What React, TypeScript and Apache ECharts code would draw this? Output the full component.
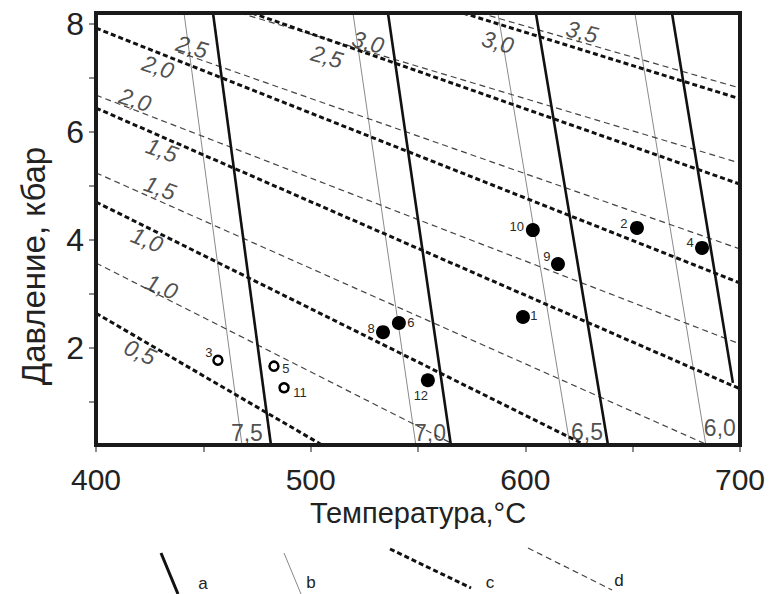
import React, { useEffect, useRef } from "react";
import * as echarts from "echarts";

// Samples: id, temperature (°C), pressure (kbar)
const sampleIds = ["1", "2", "3", "4", "5", "6", "8", "9", "10", "11", "12"];
const sampleT = [598.9, 652.0, 456.8, 682.3, 482.9, 541.1, 533.7, 615.2, 603.5, 487.6, 554.6];
const sampleP = [2.57, 4.22, 1.77, 3.85, 1.66, 2.46, 2.29, 3.55, 4.18, 1.26, 1.4];
const sampleFilled = [true, true, false, true, false, true, true, true, true, false, true];

// Isolines: each as [[T1, P1], [T2, P2]]
const isoA = [
  [[454.5, 8.2], [481.5, 0.2]],
  [[536.0, 8.2], [565.3, 0.2]],
  [[604.9, 8.2], [638.5, 0.2]],
  [[668.3, 8.2], [696.7, 1.35]],
];
const isoB = [
  [[441.0, 8.2], [468.0, 0.2]],
  [[519.7, 8.2], [549.0, 0.2]],
  [[587.2, 8.2], [620.8, 0.2]],
  [[651.0, 8.2], [684.1, 0.2]],
];
const isoC = [
  [[400, 2.64], [505.3, 0.2]],
  [[400, 4.7], [627.8, 0.2]],
  [[400, 6.44], [700, 1.24]],
  [[400, 7.92], [700, 3.2]],
  [[472.7, 8.2], [700, 5.03]],
  [[571, 8.2], [700, 6.61]],
];
const isoD = [
  [[400, 3.57], [567.2, 0.2]],
  [[400, 5.24], [685.0, 0.2]],
  [[400, 6.68], [700, 2.07]],
  [[438.2, 7.48], [700, 3.83]],
  [[467.1, 8.2], [700, 5.42]],
  [[578.9, 8.2], [700, 6.81]],
];

// Isoline labels
const isoLabelText = ["0,5", "1,0", "1,0", "1,5", "1,5", "2,0", "2,0", "2,5", "2,5", "3,0", "3,0", "3,5"];
const isoLabelT = [420.5, 423.8, 430.7, 430.7, 429.8, 428.9, 418.2, 444.7, 507.6, 526.7, 587.2, 626.4];
const isoLabelP = [1.92, 4.0, 3.13, 5.66, 4.96, 7.2, 6.59, 7.57, 7.39, 7.66, 7.66, 7.85];
const isoLabelRot = [-24, -22, -22, -20, -20, -18, -18, -16, -16, -15, -15, -14];

const bottomLabelText = ["7,5", "7,0", "6,5", "6,0"];
const bottomLabelT = [470.3, 555.6, 628.7, 690.6];
const bottomLabelP = [0.42, 0.42, 0.44, 0.51];

const xTicks = [400, 500, 600, 700];
const yLabelTicks = [2, 4, 6, 8];
const yMinorTicks = [1, 2, 3, 4, 5, 6, 7, 8];

const legendNames = ["a", "b", "c", "d"];

const xTitle = "Температура,°C";
const yTitle = "Давление, кбар";

const FONT = "'Liberation Sans', Arial, sans-serif";

const pointLabelOffset: Record<string, [number, number]> = {
  "1": [11, -2],
  "2": [-13, -4],
  "3": [-9, -8],
  "4": [-12, -5],
  "5": [12, 2],
  "6": [12, 0],
  "8": [-12, -4],
  "9": [-11, -8],
  "10": [-16, -4],
  "11": [16, 5],
  "12": [-7, 15],
};

export default function App() {
  const ref = useRef<HTMLDivElement>(null);
  useEffect(() => {
    const chart = echarts.init(ref.current!, null, { renderer: "svg" });

    const lineSeries = (lines: number[][][], style: any) =>
      lines.map((l) => ({
        type: "line",
        data: l,
        symbol: "none",
        silent: true,
        lineStyle: style,
        z: 2,
      }));

    const pick = (want: boolean) =>
      sampleIds
        .map((id, i) => ({ id, i }))
        .filter((d) => sampleFilled[d.i] === want)
        .map((d) => ({
          name: d.id,
          value: [sampleT[d.i], sampleP[d.i]],
          label: { offset: pointLabelOffset[d.id] },
        }));

    const pointLabel = {
      show: true,
      position: "inside",
      formatter: "{b}",
      fontSize: 13,
      color: "#2a2a2a",
      fontFamily: FONT,
    };

    const option: any = {
      animation: false,
      backgroundColor: "#fff",
      grid: {
        left: 96,
        top: 13,
        width: 644,
        height: 432,
        show: true,
        borderColor: "#1a1a1a",
        borderWidth: 4,
        backgroundColor: "transparent",
        z: 5,
      },
      xAxis: {
        type: "value",
        min: 400,
        max: 700,
        interval: 50,
        name: xTitle,
        nameLocation: "middle",
        nameGap: 42,
        nameTextStyle: { fontSize: 29, color: "#222", fontFamily: FONT },
        axisLine: { show: false },
        axisTick: { show: true, length: 7, inside: false, lineStyle: { color: "#666", width: 1.5 } },
        axisLabel: {
          fontSize: 30,
          color: "#222",
          fontFamily: FONT,
          margin: 19,
          customValues: xTicks,
        },
        splitLine: { show: false },
      },
      yAxis: {
        type: "value",
        min: 0.2,
        max: 8.2,
        axisLine: { show: false },
        axisTick: {
          show: true,
          length: 7,
          customValues: yMinorTicks,
          lineStyle: { color: "#666", width: 1.5 },
        },
        axisLabel: {
          fontSize: 32,
          color: "#222",
          fontFamily: FONT,
          margin: 12,
          customValues: yLabelTicks,
        },
        splitLine: { show: false },
      },
      series: [
        ...lineSeries(isoB, { color: "#8a8a8a", width: 1 }),
        ...lineSeries(isoD, { color: "#444", width: 1.2, type: [6, 4] }),
        ...lineSeries(isoC, { color: "#111", width: 3, type: [5, 3] }),
        ...lineSeries(isoA, { color: "#111", width: 2.6 }),
        {
          type: "scatter",
          silent: true,
          symbolSize: 0,
          z: 6,
          data: isoLabelText.map((t, i) => ({
            name: t,
            value: [isoLabelT[i], isoLabelP[i]],
            label: { rotate: isoLabelRot[i] },
          })),
          label: {
            show: true,
            position: "inside",
            formatter: "{b}",
            fontSize: 23,
            fontStyle: "italic",
            color: "#222",
            fontFamily: FONT,
          },
        },
        {
          type: "scatter",
          silent: true,
          symbolSize: 0,
          z: 6,
          data: bottomLabelText.map((t, i) => ({
            name: t,
            value: [bottomLabelT[i], bottomLabelP[i]],
          })),
          label: {
            show: true,
            position: "inside",
            formatter: "{b}",
            fontSize: 23,
            color: "#222",
            fontFamily: FONT,
          },
        },
        {
          type: "scatter",
          silent: true,
          symbol: "circle",
          symbolSize: 14,
          z: 7,
          itemStyle: { color: "#000", opacity: 1 },
          data: pick(true),
          label: pointLabel,
        },
        {
          type: "scatter",
          silent: true,
          symbol: "circle",
          symbolSize: 9,
          z: 7,
          itemStyle: { color: "#fff", borderColor: "#000", borderWidth: 2.5, opacity: 1 },
          data: pick(false),
          label: pointLabel,
        },
      ],
      graphic: [
        {
          type: "text",
          x: 33,
          y: 266,
          rotation: Math.PI / 2,
          style: { text: yTitle, fontSize: 33, fill: "#222", fontFamily: FONT, align: "center", verticalAlign: "middle" },
        },
        { type: "line", shape: { x1: 161, y1: 553, x2: 178, y2: 594 }, style: { stroke: "#111", lineWidth: 3 } },
        { type: "line", shape: { x1: 284, y1: 553, x2: 301, y2: 594 }, style: { stroke: "#888", lineWidth: 1 } },
        { type: "line", shape: { x1: 390, y1: 549, x2: 471, y2: 588 }, style: { stroke: "#111", lineWidth: 3, lineDash: [5, 3] } },
        { type: "line", shape: { x1: 528, y1: 548, x2: 612, y2: 590 }, style: { stroke: "#444", lineWidth: 1.2, lineDash: [6, 4] } },
        ...legendNames.map((n, i) => ({
          type: "text",
          x: [203, 311, 490, 619][i],
          y: [583, 582, 582, 580][i],
          style: { text: n, fontSize: 17, fill: "#222", fontFamily: FONT, align: "center", verticalAlign: "middle" },
        })),
      ],
    };
    chart.setOption(option);
    return () => chart.dispose();
  }, []);
  return (
    <div
      ref={ref}
      style={{ position: "fixed", left: 0, top: 0, width: 771, height: 594, background: "#fff" }}
    />
  );
}
